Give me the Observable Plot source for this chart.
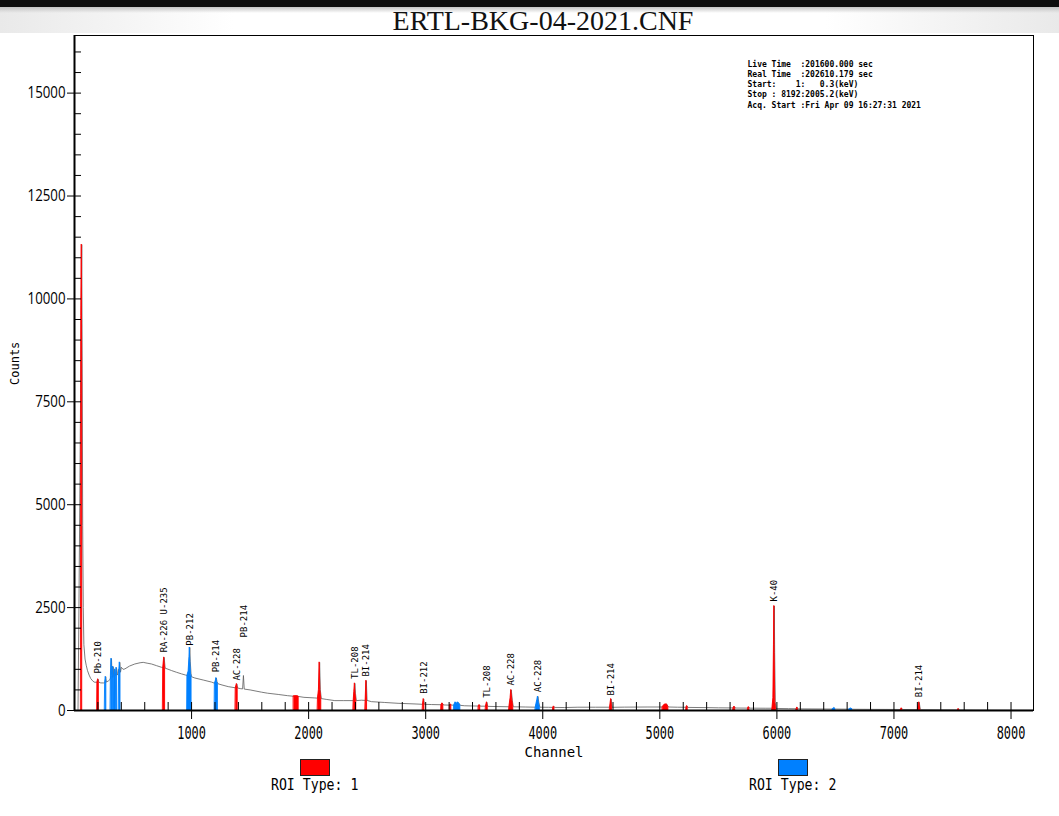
<!DOCTYPE html>
<html>
<head>
<meta charset="utf-8">
<script src="https://cdn.jsdelivr.net/npm/d3@7"></script>
<script src="https://cdn.jsdelivr.net/npm/@observablehq/plot@0.6"></script>
<style>
html,body{margin:0;padding:0;background:#fff;width:1059px;height:816px;overflow:hidden}
#header{position:relative;width:1059px;height:33px;background:linear-gradient(to right,#e9e9e9,#fff 22%,#fff 78%,#e9e9e9);}
#bar{position:absolute;left:0;top:0;width:1059px;height:7px;background:#0e0e0e;}
#shade{position:absolute;left:0;top:7px;width:1059px;height:6px;background:linear-gradient(#c4c4c4,rgba(255,255,255,0));}
#title{position:absolute;left:0;top:7px;width:1086px;text-align:center;font:28px/28px "Liberation Serif","Times New Roman",serif;color:#111;}
#chart svg{display:block}
svg text{white-space:pre}
#legend{position:relative;width:1059px;height:57px}
.item{position:absolute;top:0;width:140px;text-align:center}
.sw{width:30px;height:17px;box-sizing:border-box;border:1px solid #222;margin:0 auto}
.lab{display:inline-block;margin-top:1px;font:15px/15px "DejaVu Sans Mono",monospace;color:#000;transform:scaleX(0.88);white-space:pre}
</style>
</head>
<body>
<div id="header"><div id="bar"></div><div id="shade"></div><div id="title"></div></div>
<div id="chart"></div>
<div id="legend"></div>
<script>
// ---------- data ----------
const titleText = "ERTL-BKG-04-2021.CNF";
const xLabel = "Channel";
const yLabel = "Counts";
const xTicks = [1000, 2000, 3000, 4000, 5000, 6000, 7000, 8000];
const yTicks = [0, 2500, 5000, 7500, 10000, 12500, 15000];
const infoLines = [
  "Live Time  :201600.000 sec",
  "Real Time  :202610.179 sec",
  "Start:    1:   0.3(keV)",
  "Stop : 8192:2005.2(keV)",
  "Acq. Start :Fri Apr 09 16:27:31 2021"
];
const legendNames = ["ROI Type: 1", "ROI Type: 2"];
const roiColors = ["#ff0000", "#0080ff"];

// spectrum (channel, counts)
const channels = [0,30,38,45,52,58,62,66,70,75,80,90,100,111,125,139,155,168,185,196,202,208,225,250,
262,267,272,290,305,311,316,321,326,330,335,340,345,351,356,359,364,370,375,381,387,393,400,415,430,470,515,560,587,620,658,700,743,
758,766,774,829,870,914,950,965,975,982,985,989,995,1000,1028,1100,1171,1200,1207,1212,1217,1225,1260,1313,
1378,1387,1394,1420,1436,1443,1450,1500,1598,1650,1740,1820,1875,1895,1915,1960,2053,2080,2088,2094,2100,2108,
2150,2224,2300,2385,2390,2395,2400,2407,2450,2487,2493,2499,2536,2650,2764,2900,2977,2983,2989,3049,3135,3143,
3151,3209,3214,3219,3244,3255,3265,3275,3285,3296,3333,3400,3454,3460,3466,3515,3523,3530,3618,3715,3725,3731,
3740,3748,3850,3940,3953,3959,3966,3975,4050,4090,4095,4100,4187,4300,4450,4575,4584,4592,4700,4898,5025,5040,
5060,5073,5150,5228,5233,5238,5400,5500,5630,5637,5644,5755,5760,5765,5900,5962,5970,5975,5978,5981,5986,5992,
6100,6169,6174,6179,6300,6478,6490,6500,6620,6632,6645,6800,7060,7066,7072,7205,7216,7225,7400,7547,7552,7557,
7700,8000,8192];
const counts = [0,0,2500,5000,7700,9600,11320,8000,4500,2500,1600,1250,1100,970,860,775,720,690,685,690,760,685,670,670,
680,820,690,720,760,860,1260,840,800,1065,820,830,1000,850,870,1040,860,900,1000,900,1170,930,1050,1000,1010,1080,1130,1160,1170,1150,1130,1090,1050,
1040,1290,1030,970,930,890,860,850,950,1300,1530,1200,900,820,790,740,690,660,720,790,700,650,620,580,
550,645,545,530,525,850,520,500,445,420,390,360,345,350,340,320,305,300,500,1170,500,290,
270,240,240,240,450,660,420,240,250,245,725,245,215,195,175,160,150,280,150,145,140,175,
135,130,150,130,130,200,160,200,170,125,115,110,108,135,105,105,200,100,95,90,300,500,
250,90,85,80,250,340,200,80,78,75,100,75,72,80,80,80,280,78,82,85,85,140,
150,85,80,78,110,75,70,65,62,95,60,58,85,57,55,55,300,1600,2540,1400,200,50,
45,42,75,40,38,35,60,35,32,50,30,28,25,55,25,22,200,20,16,14,40,13,
10,6,4];

// regions of interest: first channel, last channel, type
const roiStart = [58,196,262,311,326,340,356,381,758,965,1200,1378,1875,2080,2385,2487,2977,3135,3209,3244,3454,3515,3715,3940,4090,4575,5025,5228,5630,5755,5962,6169,6478,6620,7060,7205,7547];
const roiEnd   = [66,208,272,321,335,351,364,393,774,1000,1225,1394,1915,2108,2407,2499,2989,3151,3219,3296,3466,3530,3748,3975,4100,4592,5073,5238,5644,5765,5992,6179,6500,6645,7072,7225,7557];
const roiType  = [1,1,2,2,2,2,2,2,1,2,2,1,1,1,1,1,1,1,1,2,1,1,1,2,1,1,1,1,1,1,1,1,2,2,1,1,1];

// nuclide labels: name, channel, counts at label start
const peakNames    = ["Pb-210","RA-226 U-235","PB-212","PB-214","AC-228","PB-214","TL-208","BI-214","BI-212","TL-208","AC-228","AC-228","BI-214","K-40","BI-214"];
const peakChannels = [202,766,985,1212,1387,1448,2395,2493,2983,3523,3731,3959,4584,5978,7216];
const labelCounts  = [897,1413,1575,928,727,1776,768,824,405,308,606,443,363,2648,322];

// ---------- build ----------
document.getElementById("title").textContent = titleText;

const spectrum = channels.map((ch, i) => ({ch, c: counts[i]}));
const roiPts = roiStart.flatMap((s, i) =>
  spectrum.filter(p => p.ch >= s && p.ch <= roiEnd[i]).map(p => ({...p, id: i, type: roiType[i]})));
const labels = peakNames.map((t, i) => ({t, ch: peakChannels[i], c: labelCounts[i]}));

const W = 1059, H = 726, mt = 2, mb = 49, ml = 74, mr = 26;
const fw = W - ml - mr, fh = H - mt - mb;
const minorX = d3.range(0, 8193, 200);
const minorY = d3.range(0, 16401, 500);
const mono = "DejaVu Sans Mono, monospace";

const chart = Plot.plot({
  width: W, height: H,
  marginTop: mt, marginBottom: mb, marginLeft: ml, marginRight: mr,
  style: {background: "transparent", color: "#000", fontFamily: mono},
  x: {domain: [0, 8192]},
  y: {domain: [0, 16400]},
  marks: [
    Plot.line(spectrum, {x: "ch", y: "c", stroke: "#5a5a5a", strokeWidth: 0.8}),
    Plot.areaY(roiPts.filter(d => d.type === 1), {x: "ch", y: "c", z: "id", fill: roiColors[0], stroke: roiColors[0], strokeWidth: 0.9}),
    Plot.areaY(roiPts.filter(d => d.type === 2), {x: "ch", y: "c", z: "id", fill: roiColors[1], stroke: roiColors[1], strokeWidth: 0.9}),
    Plot.tickX(minorX, {x: d => d, insetTop: fh - 8, stroke: "#000", strokeWidth: 1}),
    Plot.tickY(minorY, {y: d => d, insetRight: fw - 7, stroke: "#000", strokeWidth: 1}),
    Plot.frame({stroke: "#000", strokeWidth: 1}),
    Plot.ruleX([0], {stroke: "#000", strokeWidth: 2}),
    Plot.ruleY([0], {stroke: "#000", strokeWidth: 2}),
    Plot.axisX(xTicks, {tickSize: 9, tickPadding: 7, tickFormat: d => String(d), fontSize: 17, fontFamily: mono, label: null}),
    Plot.axisY(yTicks, {tickSize: 7, tickPadding: 2, tickFormat: d => String(d), fontSize: 15.8, fontFamily: "Open Sans, sans-serif", label: null}),
    Plot.text(labels, {x: "ch", y: "c", text: "t", rotate: -90, textAnchor: "start", fontFamily: mono, fontSize: 9, fill: "#000", ariaLabel: "peak-labels"}),
    Plot.text([infoLines.join("\n")], {text: d => d, frameAnchor: "top-left", dx: 673, dy: 24, textAnchor: "start", lineAnchor: "top", fontFamily: mono, fontSize: 8, fontWeight: "bold", lineHeight: 1.275, fill: "#000", ariaLabel: "info"}),
    Plot.text([xLabel], {text: d => d, frameAnchor: "bottom", dy: 42, lineAnchor: "middle", fontFamily: mono, fontSize: 14, fill: "#000", ariaLabel: "xname"}),
    Plot.text([yLabel], {text: d => d, frameAnchor: "left", rotate: -90, dx: -59, dy: 12, lineAnchor: "middle", fontFamily: mono, fontSize: 12, fill: "#000", ariaLabel: "yname"})
  ]
});
document.getElementById("chart").appendChild(chart);

function squeeze(sel, s) {
  chart.querySelectorAll(sel).forEach(t => {
    const tr = t.getAttribute("transform");
    if (tr) t.setAttribute("transform", tr + ` scale(${s},1)`);
    else {
      const x = parseFloat(t.getAttribute("x")) || 0;
      t.removeAttribute("x");
      t.setAttribute("transform", `translate(${x},0) scale(${s},1)`);
    }
  });
}
squeeze('g[aria-label="x-axis tick label"] text', 0.7);
squeeze('g[aria-label="y-axis tick label"] text', 0.84);
squeeze('g[aria-label="peak-labels"] text', 0.87);
squeeze('g[aria-label="xname"] text', 0.96);
squeeze('g[aria-label="yname"] text', 0.93);

// legend
const legend = document.getElementById("legend");
const centers = [314.5, 793];
legendNames.forEach((name, i) => {
  const item = document.createElement("div");
  item.className = "item";
  item.style.left = (centers[i] - 70) + "px";
  const sw = document.createElement("div");
  sw.className = "sw";
  sw.style.background = roiColors[i];
  const lab = document.createElement("span");
  lab.className = "lab";
  lab.textContent = name;
  item.appendChild(sw);
  item.appendChild(lab);
  legend.appendChild(item);
});
</script>
</body>
</html>
